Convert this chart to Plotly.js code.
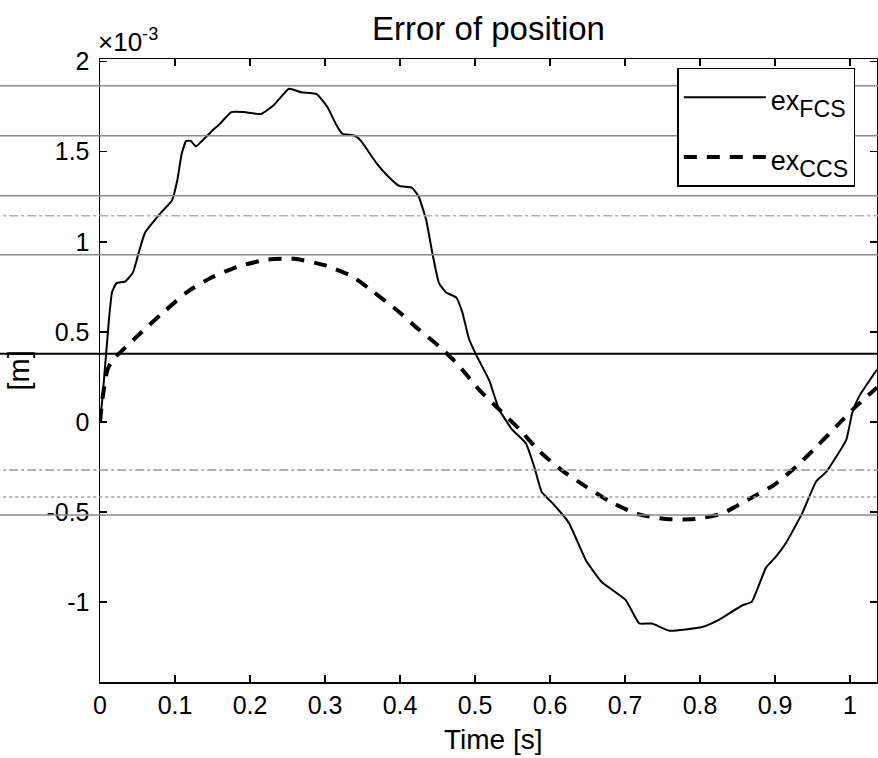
<!DOCTYPE html>
<html>
<head>
<meta charset="utf-8">
<script src="https://cdn.plot.ly/plotly-3.0.1.min.js"></script>
<style>html,body{margin:0;padding:0;background:#fff;}#chart{width:878px;height:758px;}</style>
</head>
<body>
<div id="chart"></div>
<script>
// Time [s]
var time_fcs = [0,0.003,0.008,0.012,0.016,0.022,0.034,0.044,0.053,0.060,0.081,0.096,0.103,0.109,0.115,0.121,0.128,0.136,0.148,0.161,0.175,0.192,0.215,0.232,0.252,0.268,0.289,0.303,0.315,0.323,0.339,0.348,0.368,0.385,0.399,0.416,0.425,0.435,0.443,0.452,0.461,0.475,0.483,0.492,0.503,0.519,0.532,0.549,0.568,0.579,0.589,0.603,0.625,0.648,0.669,0.701,0.719,0.736,0.759,0.803,0.825,0.856,0.869,0.888,0.901,0.915,0.936,0.955,0.968,0.995,1.003,1.012,1.036];
// ex_FCS in units of 1e-3 m
var ex_fcs = [0,0.12,0.37,0.57,0.72,0.77,0.78,0.83,0.96,1.05,1.16,1.23,1.34,1.49,1.56,1.56,1.53,1.56,1.61,1.66,1.72,1.72,1.71,1.76,1.85,1.83,1.82,1.75,1.65,1.60,1.59,1.56,1.44,1.36,1.31,1.30,1.25,1.12,0.94,0.77,0.72,0.69,0.61,0.46,0.36,0.23,0.07,-0.04,-0.12,-0.25,-0.39,-0.45,-0.56,-0.77,-0.89,-0.99,-1.12,-1.12,-1.16,-1.14,-1.10,-1.02,-1.00,-0.81,-0.75,-0.67,-0.51,-0.33,-0.28,-0.10,0.05,0.14,0.29];
var time_ccs = [0,0.004,0.010,0.018,0.028,0.056,0.085,0.116,0.148,0.183,0.221,0.259,0.299,0.335,0.365,0.396,0.423,0.452,0.479,0.505,0.532,0.559,0.585,0.616,0.648,0.679,0.715,0.755,0.792,0.829,0.865,0.899,0.928,0.955,0.983,1.009,1.036];
// ex_CCS in units of 1e-3 m
var ex_ccs = [0,0.15,0.29,0.35,0.39,0.50,0.61,0.72,0.80,0.86,0.90,0.905,0.87,0.81,0.72,0.62,0.52,0.42,0.31,0.18,0.07,-0.04,-0.16,-0.27,-0.36,-0.44,-0.51,-0.54,-0.54,-0.51,-0.43,-0.35,-0.25,-0.14,-0.02,0.09,0.19];

var xTickVals = [0,0.1,0.2,0.3,0.4,0.5,0.6,0.7,0.8,0.9,1];
var xTickText = ['0','0.1','0.2','0.3','0.4','0.5','0.6','0.7','0.8','0.9','1'];
var yTickVals = [-1,-0.5,0,0.5,1,1.5,2];
var yTickText = ['-1','-0.5','0','0.5','1','1.5','2'];

// scan artefact lines (y in units of 1e-3)
var scanLineY = [1.867,1.589,1.256,1.144,0.928,0.378,-0.267,-0.417,-0.517];
var scanLineColor = ['#8a8a8a','#8a8a8a','#8a8a8a','#b0b0b0','#8a8a8a','#000000','#9a9a9a','#a0a0a0','#8a8a8a'];
var scanLineDash = ['solid','solid','solid','dashdot','solid','solid','dashdot','dot','solid'];

var FONT = 'Liberation Sans, Arial, Helvetica, sans-serif';

var traces = [
  {x: time_fcs, y: ex_fcs, type: 'scatter', mode: 'lines', legendgroup: 'a',
   name: '<span style="font-size:27px">ex</span><sub>FCS</sub>',
   line: {color: '#000', width: 2, shape: 'spline', smoothing: 0.4}},
  {x: time_ccs, y: ex_ccs, type: 'scatter', mode: 'lines', legendgroup: 'b',
   name: '<span style="font-size:27px">ex</span><sub>CCS</sub>',
   line: {color: '#000', width: 4, dash: '13px,10px', shape: 'spline', smoothing: 0.6}}
];

var shapes = scanLineY.map(function(v, i) {
  return {type: 'line', xref: 'paper', yref: 'y', x0: -0.14, x1: 1.01, y0: v, y1: v,
          line: {color: scanLineColor[i], width: (i === 5 ? 1.8 : 1.5), dash: scanLineDash[i]}};
});

var layout = {
  width: 878, height: 758,
  margin: {l: 100, r: 1, t: 59, b: 76},
  paper_bgcolor: '#fff', plot_bgcolor: '#fff',
  font: {family: FONT, color: '#000', size: 25},
  showlegend: true,
  title: {text: 'Error of position', font: {family: FONT, size: 33, color: '#000'},
          x: 0.5, xref: 'paper', xanchor: 'center', y: 1 - 28/758, yref: 'container', yanchor: 'middle'},
  xaxis: {range: [0, 1.036], tickmode: 'array', tickvals: xTickVals, ticktext: xTickText,
          ticks: 'inside', ticklen: 7, tickwidth: 1.5, tickcolor: '#000',
          showline: true, linecolor: '#000', linewidth: 1.5, mirror: 'ticks',
          showgrid: false, zeroline: false, tickfont: {family: FONT, size: 25}},
  yaxis: {range: [-1.445, 2.015], tickmode: 'array', tickvals: yTickVals, ticktext: yTickText,
          ticks: 'inside', ticklen: 7, tickwidth: 1.5, tickcolor: '#000', ticklabelstandoff: 4,
          showline: true, linecolor: '#000', linewidth: 1.5, mirror: 'ticks',
          showgrid: false, zeroline: false, tickfont: {family: FONT, size: 25}},
  legend: {x: 0.743, y: 0.986, xanchor: 'left', yanchor: 'top', bgcolor: '#fff',
           bordercolor: '#000', borderwidth: 1.5, font: {family: FONT, size: 33},
           traceorder: 'grouped', tracegroupgap: 14, itemwidth: 82},
  shapes: shapes,
  annotations: [
    {text: '×10<sup>-3</sup>', xref: 'paper', yref: 'paper', x: -0.005, y: 1.0, xanchor: 'left', yanchor: 'bottom',
     showarrow: false, font: {family: FONT, size: 26, color: '#000'}},
    {text: 'Time [s]', xref: 'paper', yref: 'paper', x: 0.506, y: -0.092, xanchor: 'center', yanchor: 'middle',
     showarrow: false, font: {family: FONT, size: 28, color: '#000'}},
    {text: '[m]', xref: 'paper', yref: 'paper', x: -0.1055, y: 0.5, xanchor: 'center', yanchor: 'middle',
     textangle: -90, showarrow: false, font: {family: FONT, size: 29, color: '#000'}}
  ]
};

Plotly.newPlot('chart', traces, layout, {displayModeBar: false, staticPlot: true});
</script>
</body>
</html>
